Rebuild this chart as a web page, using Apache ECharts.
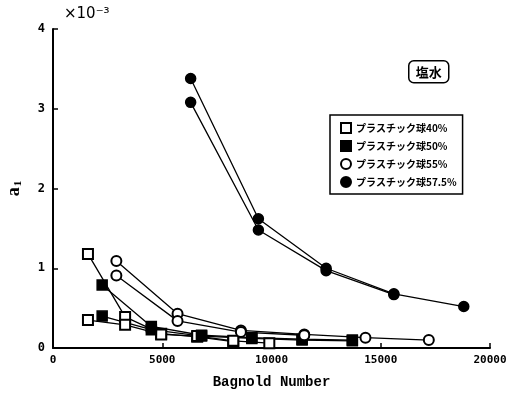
<!DOCTYPE html>
<html>
<head>
<meta charset="utf-8">
<script src="https://cdn.jsdelivr.net/npm/echarts@6/dist/echarts.min.js"></script>
<style>
  html, body { margin: 0; padding: 0; background: #fff; }
  #main { width: 513px; height: 394px; }
</style>
</head>
<body>
<div id="main"></div>
<script>
    // legend names
    var names = ['プラスチック球40%', 'プラスチック球50%', 'プラスチック球55%', 'プラスチック球57.5%'];
    var symbols = ['emptyRect', 'rect', 'emptyCircle', 'circle'];

    // each sample has two runs: [Bagnold number, a1 (x10^-3)]
    var p40a = [[1600, 1.18], [3300, 0.39], [4950, 0.18], [6600, 0.14], [8250, 0.08]];
    var p40b = [[1600, 0.35], [3300, 0.29], [4950, 0.17], [6600, 0.15], [8250, 0.09], [9900, 0.06]];
    var p50a = [[2250, 0.79], [4500, 0.27], [6800, 0.16], [9100, 0.13], [11400, 0.11], [13700, 0.10]];
    var p50b = [[2250, 0.40], [4500, 0.23], [6800, 0.15], [9100, 0.12], [11400, 0.10], [13700, 0.09]];
    var p55a = [[2900, 1.09], [5700, 0.43], [8600, 0.22], [11500, 0.17], [14300, 0.13], [17200, 0.10]];
    var p55b = [[2900, 0.91], [5700, 0.34], [8600, 0.20], [11500, 0.16]];
    var p575a = [[6300, 3.38], [9400, 1.62], [12500, 1.00], [15600, 0.68], [18800, 0.52]];
    var p575b = [[6300, 3.08], [9400, 1.48], [12500, 0.97], [15600, 0.67]];

    var runs = [[p40a, p40b], [p50a, p50b], [p55a, p55b], [p575a, p575b]];

    var series = [];
    for (var i = 0; i < runs.length; i++) {
        for (var j = 0; j < runs[i].length; j++) {
            series.push({
                name: names[i],
                type: 'line',
                data: runs[i][j],
                symbol: symbols[i],
                symbolSize: 10,
                showAllSymbol: true,
                lineStyle: {color: '#000', width: 1.3},
                itemStyle: {color: '#000', borderColor: '#000', borderWidth: 1.5},
                emphasis: {disabled: true},
                animation: false
            });
        }
    }

    var option = {
        backgroundColor: '#fff',
        animation: false,
        grid: {left: 53, right: 23, top: 29, bottom: 46, containLabel: false, outerBoundsMode: 'none'},
        legend: {
            orient: 'vertical',
            left: 330,
            top: 115,
            padding: [7, 6, 6, 10],
            itemGap: 6,
            itemWidth: 10,
            itemHeight: 10,
            borderColor: '#000',
            borderWidth: 1.5,
            selectedMode: false,
            textStyle: {color: '#000', fontFamily: 'Noto Sans CJK JP', fontSize: 10, fontWeight: 'bold'},
            data: names.map(function (n, k) {
                return {name: n, icon: symbols[k]};
            })
        },
        xAxis: {
            type: 'value',
            min: 0,
            max: 20000,
            interval: 5000,
            name: 'Bagnold Number',
            nameLocation: 'middle',
            nameGap: 27,
            nameTextStyle: {color: '#000', fontFamily: 'Liberation Mono', fontWeight: 'bold', fontSize: 14},
            axisLine: {lineStyle: {color: '#000', width: 2}},
            axisTick: {inside: true, length: 5, lineStyle: {color: '#000', width: 1.5}},
            axisLabel: {
                color: '#000', fontFamily: 'DejaVu Sans Mono', fontWeight: 'bold', fontSize: 11, margin: 7,
                formatter: function (v) { return String(v); }
            },
            splitLine: {show: false}
        },
        yAxis: {
            type: 'value',
            min: 0,
            max: 4,
            interval: 1,
            name: '{a|a}{s|1}',
            nameLocation: 'middle',
            nameRotate: 90,
            nameGap: 29,
            nameTextStyle: {
                color: '#000',
                rich: {
                    a: {fontFamily: 'Liberation Serif', fontWeight: 'bold', fontSize: 18, color: '#000'},
                    s: {fontFamily: 'Liberation Serif', fontWeight: 'bold', fontSize: 11, color: '#000', padding: [8, 0, 0, 1]}
                }
            },
            axisLine: {show: true, lineStyle: {color: '#000', width: 2}},
            axisTick: {show: true, inside: true, length: 5, lineStyle: {color: '#000', width: 1.5}},
            axisLabel: {color: '#000', fontFamily: 'DejaVu Sans Mono', fontWeight: 'bold', fontSize: 12, margin: 8},
            splitLine: {show: false}
        },
        graphic: [
            {
                type: 'text',
                left: 64,
                top: 7,
                style: {text: '×10⁻³', fill: '#000', font: '15px "DejaVu Sans"'}
            },
            {
                type: 'group',
                left: 408,
                top: 60,
                children: [
                    {
                        type: 'rect',
                        shape: {x: 0, y: 0, width: 40, height: 22, r: 5},
                        style: {fill: '#fff', stroke: '#000', lineWidth: 1.5}
                    },
                    {
                        type: 'text',
                        x: 20,
                        y: 11,
                        style: {text: '塩水', fill: '#000', font: 'bold 13px "Noto Sans CJK JP"', align: 'center', verticalAlign: 'middle'}
                    }
                ]
            }
        ],
        series: series
    };

    var myChart = echarts.init(document.getElementById('main'));
    myChart.setOption(option);
</script>
</body>
</html>
